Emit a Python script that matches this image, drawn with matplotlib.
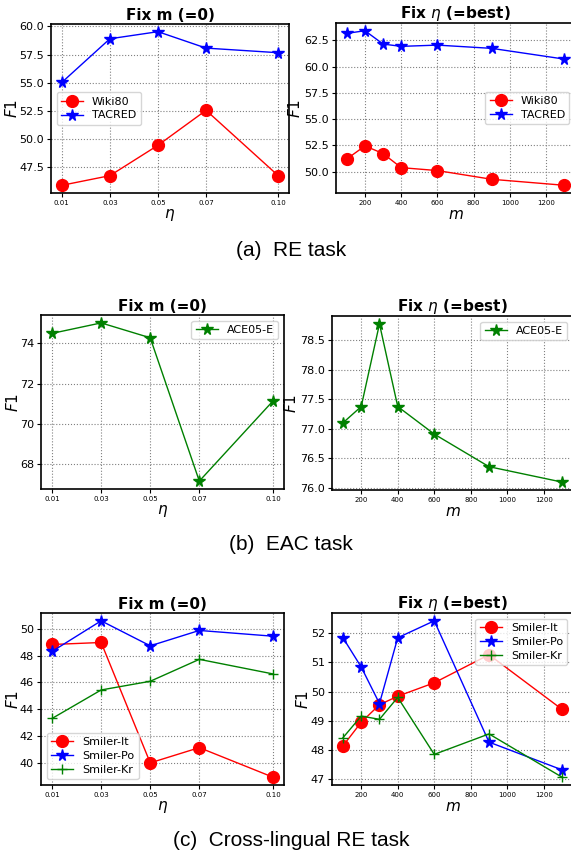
"""
Sensitivity plots: F1 vs. eta (m fixed) and vs. m (eta fixed) for three tasks.
"""
import matplotlib
matplotlib.use('Agg')
import matplotlib.pyplot as plt

# ─── data ───
eta = [0.01, 0.03, 0.05, 0.07, 0.10]
eta_labels = ['0.01', '0.03', '0.05', '0.07', '0.10']
m_vals = [100, 200, 300, 400, 600, 900, 1300]

# (a) RE task
re_eta_wiki80 = [45.87, 46.73, 49.43, 52.54, 46.73]
re_eta_tacred = [55.02, 58.90, 59.53, 58.07, 57.66]
re_m_wiki80 = [51.21, 52.45, 51.72, 50.38, 50.10, 49.27, 48.70]
re_m_tacred = [63.17, 63.42, 62.15, 61.93, 62.05, 61.74, 60.72]

# (b) EAC task
eac_eta_ace = [74.50, 75.02, 74.28, 67.16, 71.14]
eac_m_ace = [77.10, 77.375, 78.77, 77.375, 76.91, 76.36, 76.10]

# (c) Cross-lingual RE task
cl_eta_it = [48.83, 48.98, 39.98, 41.12, 38.91]
cl_eta_po = [48.31, 50.60, 48.73, 49.88, 49.45]
cl_eta_kr = [43.30, 45.43, 46.08, 47.72, 46.63]
cl_m_it = [48.14, 48.95, 49.55, 49.84, 50.30, 51.26, 49.39]
cl_m_po = [51.84, 50.84, 49.59, 51.84, 52.42, 48.27, 47.32]
cl_m_kr = [48.42, 49.16, 49.05, 49.80, 47.85, 48.55, 47.07]

captions = ['(a)  RE task', '(b)  EAC task', '(c)  Cross-lingual RE task']

W, H = 571, 858
fig = plt.figure(figsize=(W / 100, H / 100), dpi=100)
fig.patch.set_facecolor('white')


def add_ax(x0, x1, ytop, ybot):
    ax = fig.add_axes([x0 / W, (H - ybot) / H, (x1 - x0) / W, (ybot - ytop) / H])
    ax._px = (x0, x1)
    return ax


STYLES = {
    'o': dict(marker='o', markersize=8.5),
    '*': dict(marker='*', markersize=8.5),
    '+': dict(marker='+', markersize=7.5, markeredgewidth=1.0),
}


def draw(ax, x, series, title, xlabel, legend_loc, eta_axis, ylab_px):
    for y, label, color, mk in series:
        ax.plot(x, y, color=color, linewidth=1.0, label=label, **STYLES[mk])
    ax.set_title(title, fontsize=11, fontweight='bold', pad=3)
    ax.set_xlabel(xlabel, fontsize=11, labelpad=1)
    ax.set_ylabel('$F1$', fontsize=11)
    x0, x1 = ax._px
    ax.yaxis.set_label_coords((ylab_px - x0) / (x1 - x0), 0.5)
    if eta_axis:
        ax.set_xticks(eta)
        ax.set_xticklabels(eta_labels)
    ax.tick_params(axis='x', labelsize=5, length=3, pad=2)
    ax.tick_params(axis='y', labelsize=8, length=3, pad=2)
    ax.grid(True, linestyle=':', color='gray', linewidth=0.8)
    for s in ax.spines.values():
        s.set_color('black')
        s.set_linewidth(1.2)
    ax.legend(loc=legend_loc, fontsize=8, handlelength=2.0,
              borderpad=0.4, labelspacing=0.35)


# ─── (a) RE task ───
ax = add_ax(51, 289, 24, 193)
draw(ax, eta, [(re_eta_wiki80, 'Wiki80', 'red', 'o'),
               (re_eta_tacred, 'TACRED', 'blue', '*')],
     'Fix m (=0)', '$\\eta$', 'center left', True, 20)
ax = add_ax(336, 575, 23, 193)
draw(ax, m_vals, [(re_m_wiki80, 'Wiki80', 'red', 'o'),
                  (re_m_tacred, 'TACRED', 'blue', '*')],
     'Fix $\\eta$ (=best)', '$m$', 'center right', False, 303)

# ─── (b) EAC task ───
ax = add_ax(41, 284, 315, 489)
draw(ax, eta, [(eac_eta_ace, 'ACE05-E', 'green', '*')],
     'Fix m (=0)', '$\\eta$', 'upper right', True, 21)
ax = add_ax(332, 573, 316, 490)
draw(ax, m_vals, [(eac_m_ace, 'ACE05-E', 'green', '*')],
     'Fix $\\eta$ (=best)', '$m$', 'upper right', False, 299)

# ─── (c) Cross-lingual RE task ───
ax = add_ax(41, 284, 613, 785)
draw(ax, eta, [(cl_eta_it, 'Smiler-It', 'red', 'o'),
               (cl_eta_po, 'Smiler-Po', 'blue', '*'),
               (cl_eta_kr, 'Smiler-Kr', 'green', '+')],
     'Fix m (=0)', '$\\eta$', 'lower left', True, 21)
ax = add_ax(332, 573, 613, 785)
draw(ax, m_vals, [(cl_m_it, 'Smiler-It', 'red', 'o'),
                  (cl_m_po, 'Smiler-Po', 'blue', '*'),
                  (cl_m_kr, 'Smiler-Kr', 'green', '+')],
     'Fix $\\eta$ (=best)', '$m$', 'upper right', False, 311)

# captions
for cap, yc in zip(captions, [251, 545, 841]):
    fig.text(291 / W, (H - yc) / H, cap, ha='center', va='center',
             fontsize=15, family=['Liberation Sans', 'DejaVu Sans'])

fig.savefig('out.png', dpi=100, facecolor='white')
